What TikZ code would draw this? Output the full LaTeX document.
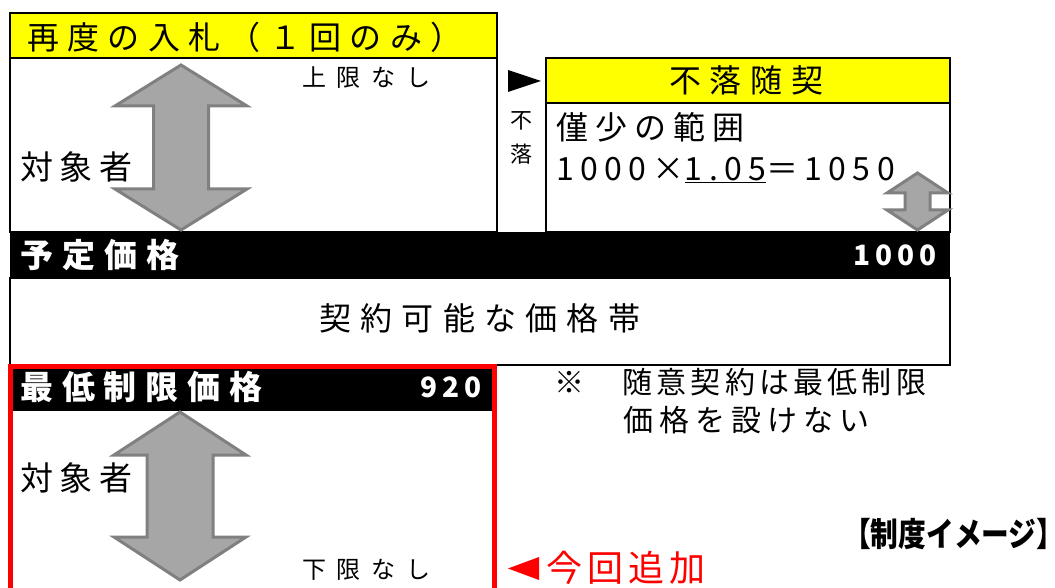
\documentclass[tikz,border=0pt]{standalone}
\usepackage{fontspec}
\usepackage{graphicx}
\newfontfamily\jp{Noto Sans CJK JP}
\definecolor{band}{RGB}{255,255,0}
\definecolor{arrowfill}{RGB}{166,166,166}
\definecolor{arrowline}{RGB}{128,128,128}
\definecolor{added}{RGB}{255,0,0}
\newcommand{\sz}[2]{\jp\addfontfeatures{LetterSpace=#2}\fontsize{#1}{#1}\selectfont}
\newcommand{\szb}[2]{\jp\addfontfeatures{LetterSpace=#2}\bfseries\fontsize{#1}{#1}\selectfont}
\tikzstyle{box}=[draw, line width=2pt]
\tikzstyle{title}=[box, fill=band]
\tikzstyle{price}=[fill=black]
\tikzstyle{bigarrow}=[fill=arrowfill, draw=arrowline, line width=3pt, line join=miter]
\tikzstyle{txt}=[inner sep=0pt, anchor=west]
% centre x, top tip, bottom tip, half width, half shaft, head length
\newcommand{\dblarrow}[6]{%
  \draw[bigarrow] (#1,#2) -- (#1+#4,#2+#6) -- (#1+#5,#2+#6) -- (#1+#5,#3-#6)
    -- (#1+#4,#3-#6) -- (#1,#3) -- (#1-#4,#3-#6) -- (#1-#5,#3-#6)
    -- (#1-#5,#2+#6) -- (#1-#4,#2+#6) -- cycle;}

\begin{document}
\begin{tikzpicture}[x=1pt,y=-1pt]
  \useasboundingbox (0,0) rectangle (1055,588);

  %% Re-tender
  \draw[box] (10,13) rectangle (497,232);
  \draw[title] (10,13) rectangle (497,58);
  \draw (27,37) node[txt,font=\sz{32}{26}] (retender) {再度の入札（１回のみ）};
  \dblarrow{181}{65}{230}{66}{27.5}{41}
  \draw (302,78) node[txt,font=\sz{24}{45}] (noupper) {上限なし};
  \draw (20,167) node[txt,font=\sz{33}{20}] (target1) {対象者};

  %% Failed tender
  \fill (508,70) -- (508,92) -- (541,81) -- cycle;
  \draw (521,121) node[font=\sz{22}{0}] (fu) {不};
  \draw (521,154) node[font=\sz{22}{0}] (raku) {落};

  %% Negotiated contract
  \draw[box] (546,58) rectangle (950,232);
  \draw[title] (546,58) rectangle (950,103);
  \draw (669,80) node[txt,font=\sz{32}{27}] (furaku) {不落随契};
  \draw (556,127) node[txt,font=\sz{32}{22}] (slight) {僅少の範囲};
  \draw (556,170) node[txt,font=\sz{32}{20}] (calc) {1000×\underline{1.05}＝1050};
  \dblarrow{917.5}{173}{230}{30.5}{12.5}{20}

  %% Planned price
  \fill[price] (10,232) rectangle (950,278);
  \draw (20,255) node[txt,text=white,font=\szb{33}{28}] (planned) {予定価格};
  \draw (853,255) node[txt,text=white,font=\szb{28}{18}] (plannedval) {1000};
  \draw[box, line width=1.5pt] (10,278) rectangle (950,365);
  \draw (319,318) node[txt,font=\sz{32}{29}] (range) {契約可能な価格帯};

  %% Minimum price
  \fill[price] (10,366) rectangle (494,411);
  \draw[added, line width=5pt] (10,595) -- (10,366) -- (494,366) -- (494,595);
  \draw (20,387) node[txt,text=white,font=\szb{33}{27}] (minimum) {最低制限価格};
  \draw (420,387) node[txt,text=white,font=\szb{28}{18}] (minimumval) {920};
  \dblarrow{180}{412}{580}{66}{33}{43}
  \draw (20,478) node[txt,font=\sz{33}{20}] (target2) {対象者};
  \draw (302,570) node[txt,font=\sz{24}{45}] (nolower) {下限なし};

  %% Notes
  \draw (554,382) node[txt,font=\sz{30}{14}] (note1) {※　随意契約は最低制限};
  \draw (623,420) node[txt,font=\sz{30}{20}] (note2) {価格を設けない};
  \draw (843,534) node[txt,font=\szb{33}{0}] (caption) {\scalebox{0.84}[1]{【制度イメージ】}\hspace{-20pt}};
  \fill[added] (539,557) -- (539,580) -- (508,568.5) -- cycle;
  \draw (546,568) node[txt,text=added,font=\sz{36}{14}] (newly) {今回追加};
\end{tikzpicture}
\end{document}
